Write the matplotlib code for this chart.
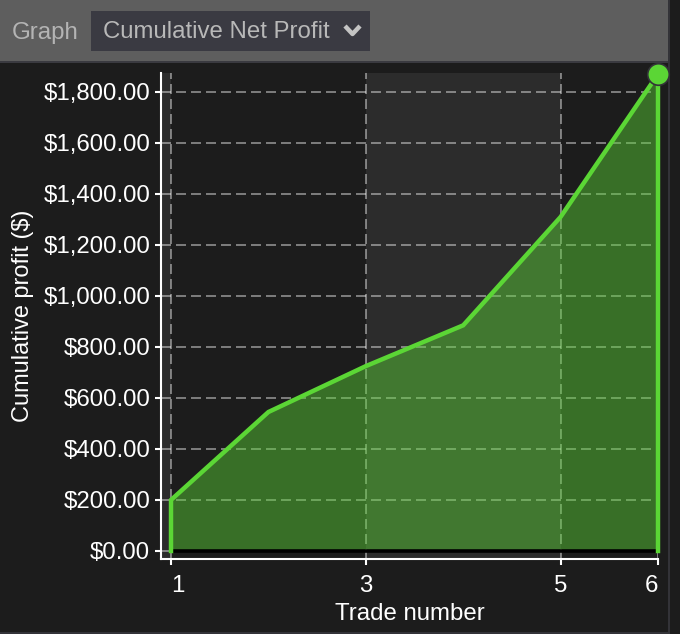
import matplotlib
matplotlib.use("Agg")
import matplotlib.pyplot as plt
from matplotlib.patches import Rectangle

plt.rcParams['font.family'] = ['Liberation Sans', 'DejaVu Sans']

trades = [1, 2, 3, 4, 5, 6]
profit = [200, 545, 725, 885, 1310, 1870]
yticks = [0, 200, 400, 600, 800, 1000, 1200, 1400, 1600, 1800]
xticks = [1, 3, 5, 6]
band = [3, 5]

W, H = 680, 634
bg = '#1c1c1c'
green = '#5bd635'
fs = 17.3

fig = plt.figure(figsize=(W / 100, H / 100), dpi=100, facecolor=bg)

# page furniture in pixel coords
page = fig.add_axes([0, 0, 1, 1])
page.set_xlim(0, W)
page.set_ylim(H, 0)
page.axis('off')
page.add_patch(Rectangle((0, 0), 668, 61, fc='#5e5e5e', ec='none'))
page.add_patch(Rectangle((0, 61), 668, 2, fc='#3a3a40', ec='none'))
page.add_patch(Rectangle((668, 0), 2, H, fc='#333338', ec='none'))
page.add_patch(Rectangle((0, 632), 668, 2, fc='#333338', ec='none'))
page.add_patch(Rectangle((91, 11), 279, 40, fc='#3a3a42', ec='none'))
page.text(12, 30, 'Graph', color='#b4b4b4', fontsize=fs, va='center_baseline')
page.text(103, 30, 'Cumulative Net Profit', color='#b8b8b8', fontsize=fs, va='center_baseline')
page.plot([345, 352.5, 360], [26, 34, 26], color='#c4c4c4', lw=3.2, solid_capstyle='butt')

# axes box: left 161, right 658, top 73, bottom 559 px
ax = fig.add_axes([161 / W, 1 - 559 / H, (658 - 161) / W, (559 - 73) / H])
ax.set_facecolor('#1c1c1c')
ax.set_xlim(1 - 10 / 97.4, 6)
ax.set_ylim(-31.4, 1874.5)

ax.axvspan(band[0], band[1], color='#2c2c2c', lw=0, zorder=0)
ax.axvspan(1 - 10 / 97.4, 1, color='#2c2c2c', lw=0, zorder=0)

ax.set_yticks(yticks)
ax.set_yticklabels(['${:,.2f}'.format(v) for v in yticks])
ax.set_xticks(xticks)
ax.set_xticklabels([str(v) for v in xticks])
labels = ax.get_xticklabels()
labels[0].set_ha('left')
labels[-1].set_ha('right')

ax.grid(True, color='white', alpha=0.42, lw=1.44, linestyle=(0, (5, 2.5)), zorder=1)
ax.set_axisbelow(True)

ax.fill_between(trades, profit, 0, color=green, alpha=0.45, lw=0, zorder=2)
ax.plot(trades, [0] * len(trades), color='black', lw=2.6, zorder=3, solid_capstyle='butt')
ax.plot([trades[0]] + trades + [trades[-1]], [0] + profit + [0], color=green, lw=3.2,
        zorder=4, solid_joinstyle='miter', clip_on=False)
ax.plot(trades[-1:], profit[-1:], 'o', ms=15.5, mfc=green, mec='#333338', mew=1.2,
        zorder=5, clip_on=False)

for s in ['top', 'right']:
    ax.spines[s].set_visible(False)
for s in ['left', 'bottom']:
    ax.spines[s].set_color('white')
    ax.spines[s].set_linewidth(1.5)
ax.tick_params(colors='white', width=1.5, length=4.5, labelsize=fs)
ax.tick_params(axis='x', pad=7)
ax.tick_params(axis='y', pad=3.2)

ax.set_xlabel('Trade number', color='white', fontsize=fs, labelpad=4)
ax.set_ylabel('Cumulative profit ($)', color='white', fontsize=fs * 0.98, labelpad=7)

fig.savefig('out.png', dpi=100, facecolor=fig.get_facecolor())
